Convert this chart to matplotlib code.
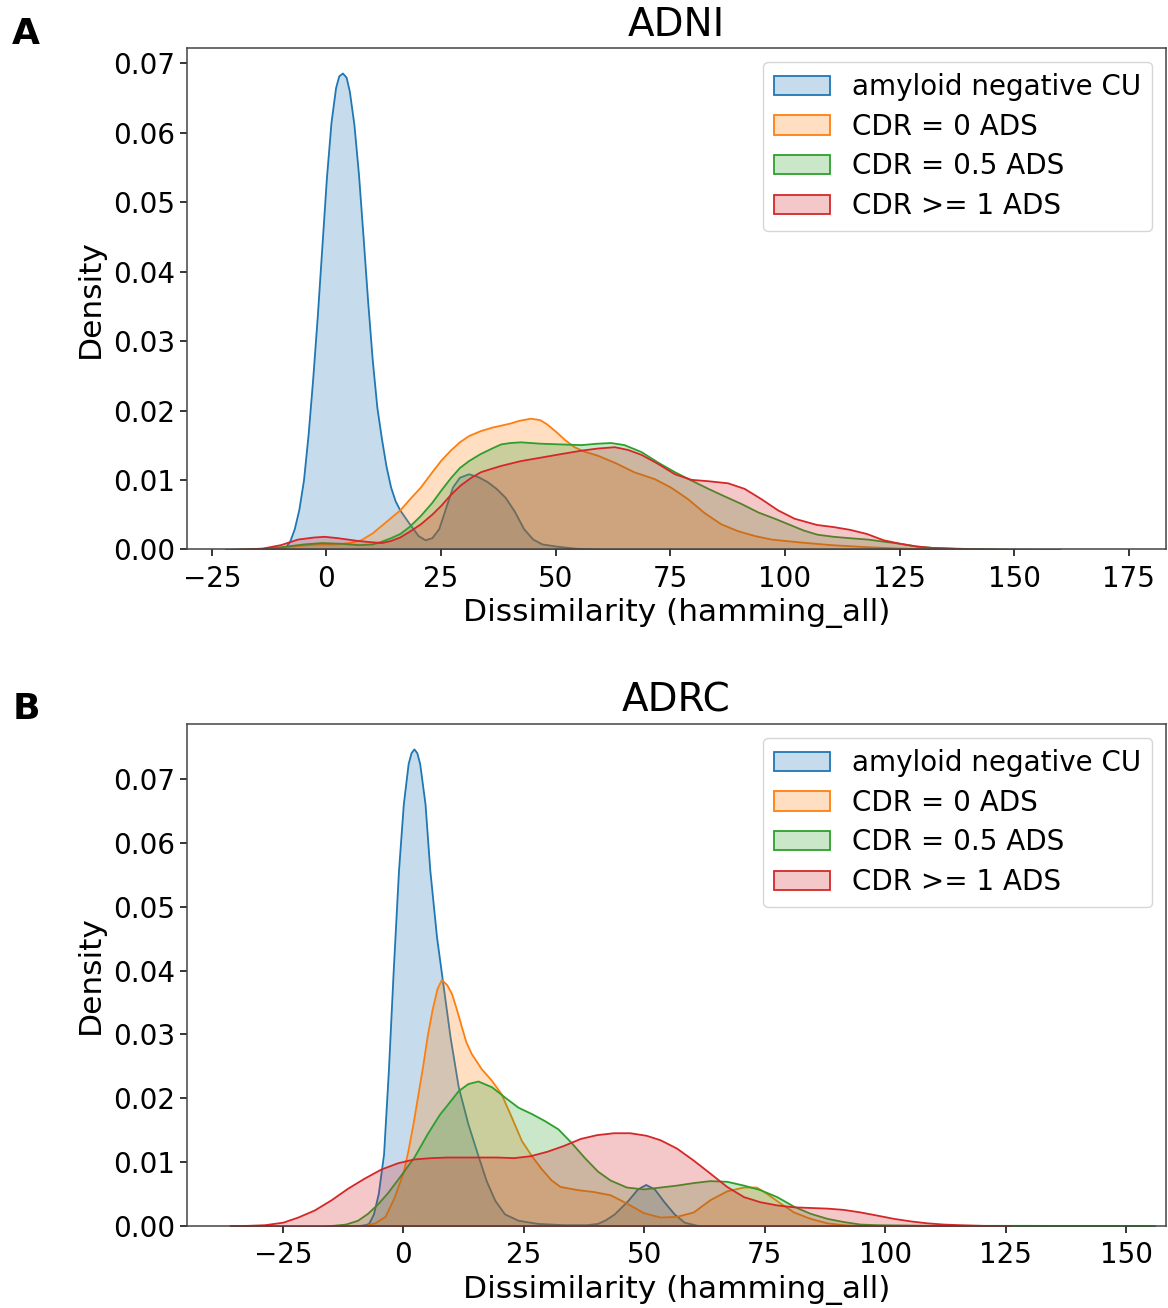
import matplotlib
matplotlib.use('Agg')

import matplotlib.pyplot as plt
from matplotlib.colors import to_rgba
from matplotlib.patches import Patch

# group names and colours (seaborn default palette)
groups = ["amyloid negative CU", "CDR = 0 ADS", "CDR = 0.5 ADS", "CDR >= 1 ADS"]
colors = ["#1f77b4", "#ff7f0e", "#2ca02c", "#d62728"]

# ---- ADNI density curves ----
adni_cu_x = [-14, -10, -9, -8, -7, -6, -5, -4, -3, -2, -1, 0, 1, 2, 2.7, 3.5, 4.3, 5, 6, 7, 8, 9,
             10, 11, 12, 13, 14, 15, 16, 18, 20, 21.5, 23, 24.5, 26, 27.5, 29, 31, 33, 35, 37,
             39, 41, 43, 45, 47, 50, 54, 60]
adni_cu_y = [0, 0.0001, 0.0003, 0.0012, 0.0030, 0.0058, 0.0100, 0.0165, 0.0245, 0.0335, 0.0435,
             0.0535, 0.0615, 0.0665, 0.0682, 0.0686, 0.0680, 0.0660, 0.0612, 0.0540, 0.0450,
             0.0357, 0.0273, 0.0205, 0.0160, 0.0120, 0.0090, 0.0070, 0.0057, 0.0038, 0.0020,
             0.0014, 0.0017, 0.0030, 0.0060, 0.0090, 0.0104, 0.0109, 0.0105, 0.0098, 0.0088,
             0.0075, 0.0055, 0.0030, 0.0015, 0.0008, 0.0005, 0.0002, 0]

adni_cdr0_x = [-22, -14, -10, -6, -2, 2, 5, 7.5, 10, 12, 14, 16, 18, 20.5, 23, 25, 27, 29, 31,
               33.5, 36, 38, 40, 42, 44.5, 46.5, 48, 50, 52, 54, 56, 59, 63, 67, 71.5, 75, 78.8,
               82.4, 86, 89.7, 93.4, 97, 103, 110, 118, 125, 132, 140]
adni_cdr0_y = [0, 0.0001, 0.0003, 0.0006, 0.0008, 0.0008, 0.0010, 0.0014, 0.0024, 0.0035, 0.0046,
               0.0057, 0.0072, 0.0090, 0.0112, 0.0129, 0.0143, 0.0155, 0.0164, 0.0171, 0.0176,
               0.0179, 0.0182, 0.0186, 0.0189, 0.0187, 0.0181, 0.0170, 0.0158, 0.0148, 0.0142,
               0.0136, 0.0125, 0.0112, 0.0102, 0.0090, 0.0073, 0.0053, 0.0037, 0.0027, 0.0020,
               0.0015, 0.0011, 0.0007, 0.0004, 0.0002, 0.0001, 0]

adni_cdr05_x = [-22, -15, -10, -5, -1, 3, 7, 10, 12, 14, 16, 18, 20.5, 23, 25, 27, 29, 31, 33.5,
                36, 38, 40, 42.3, 46.7, 51, 55.5, 59, 62, 64.9, 68.6, 72.2, 75.9, 79.5, 83.2,
                86.8, 90.5, 94.1, 97.7, 101.4, 104, 107, 110.5, 114, 118, 121.4, 125, 128.6,
                132, 139.5, 147, 160]
adni_cdr05_y = [0, 0.0001, 0.0004, 0.0008, 0.0010, 0.0009, 0.0007, 0.0008, 0.0012, 0.0017, 0.0023,
                0.0033, 0.0049, 0.0068, 0.0086, 0.0103, 0.0118, 0.0128, 0.0138, 0.0146, 0.0152,
                0.0154, 0.0155, 0.0153, 0.0152, 0.0151, 0.0153, 0.0154, 0.0151, 0.0141, 0.0126,
                0.0112, 0.0100, 0.0088, 0.0077, 0.0066, 0.0054, 0.0045, 0.0035, 0.0028, 0.0022,
                0.0019, 0.0017, 0.0015, 0.0012, 0.0009, 0.0005, 0.0003, 0.00015, 0.00005, 0]

adni_cdr1_x = [-21, -14, -10, -6.3, -2.7, -0.5, 2.4, 6.8, 10, 12, 14, 16, 18, 20.5, 23, 25, 27,
               29.2, 31.5, 33.6, 36, 38, 42.3, 46.7, 51, 55.5, 59, 62.8, 65.7, 68.6, 72.2, 75.9,
               79.5, 83.2, 87.5, 91.1, 94.8, 98.4, 102, 106.9, 110.5, 114.1, 117.8, 121.4, 125,
               128.6, 132, 139, 150]
adni_cdr1_y = [0, 0.0002, 0.0007, 0.0015, 0.0018, 0.0019, 0.0017, 0.0013, 0.0011, 0.0010, 0.0013,
               0.0018, 0.0026, 0.0037, 0.0051, 0.0064, 0.0079, 0.0093, 0.0104, 0.0112, 0.0117,
               0.0121, 0.0128, 0.0133, 0.0138, 0.0143, 0.0146, 0.0148, 0.0144, 0.0137, 0.0124,
               0.0109, 0.0101, 0.0099, 0.0096, 0.0088, 0.0073, 0.0057, 0.0045, 0.0036, 0.0033,
               0.0029, 0.0023, 0.0014, 0.0009, 0.0005, 0.0003, 0.0001, 0]

# ---- ADRC density curves ----
adrc_cu_x = [-10, -8, -7.2, -6.2, -5.2, -4.1, -3.1, -2.1, -1, 0, 1, 1.6, 2.2, 2.8, 3.4, 4.5, 5.5,
             6.9, 8.3, 9.7, 11.4, 13.4, 15.5, 17.2, 19, 21, 23.8, 27.9, 33.4, 38, 40.3, 42, 43.8,
             46.6, 48.6, 50.3, 52.1, 54.1, 56.2, 58.3, 61, 65]
adrc_cu_y = [0, 0.0002, 0.0004, 0.0019, 0.0051, 0.0113, 0.0244, 0.0400, 0.0557, 0.0661, 0.0724,
             0.0741, 0.0747, 0.0741, 0.0724, 0.0661, 0.0557, 0.0452, 0.0374, 0.0296, 0.0218,
             0.0160, 0.0110, 0.0071, 0.0040, 0.0019, 0.0009, 0.0004, 0.0002, 0.0002, 0.0004,
             0.0010, 0.0019, 0.0040, 0.0058, 0.0065, 0.0058, 0.0038, 0.0019, 0.0006, 0.0001, 0]

adrc_cdr0_x = [-10, -7.9, -5.9, -3.8, -1.9, 0, 1, 2, 3, 4, 5, 6, 7, 7.9, 9, 10, 11, 12.1, 13,
               14.1, 16.2, 18.3, 20.3, 22.4, 24.5, 26.6, 28.6, 30.7, 32.5, 36, 39.4, 42.9, 46.3,
               49.8, 53.3, 56.7, 60.2, 63.6, 67.1, 70.6, 73.3, 75.4, 78.2, 81, 84.4, 87.9, 91.3, 96]
adrc_cdr0_y = [0, 0.0001, 0.0005, 0.0015, 0.0045, 0.0085, 0.0120, 0.0160, 0.0205, 0.0250, 0.0300,
               0.0340, 0.0372, 0.0386, 0.0378, 0.0364, 0.0340, 0.0311, 0.0288, 0.0270, 0.0246,
               0.0228, 0.0207, 0.0171, 0.0134, 0.0110, 0.0090, 0.0072, 0.0062, 0.0057, 0.0054,
               0.0049, 0.0036, 0.0021, 0.0014, 0.0015, 0.0022, 0.0041, 0.0055, 0.0061, 0.0061,
               0.0051, 0.0036, 0.0022, 0.0012, 0.0005, 0.0002, 0]

adrc_cdr05_x = [-16, -12, -9.5, -7.4, -5.3, -3.3, -0.5, 2.2, 5, 7.5, 9.1, 11.4, 13.4, 15.5, 18.3,
                21, 23.8, 26.6, 29.3, 32.1, 34.8, 37.6, 40.3, 42.9, 46.3, 49.8, 53.3, 56.7, 60.2,
                63.6, 67.1, 70.6, 74, 77.5, 81, 84.4, 87.9, 91.3, 94.8, 98.3, 110, 130, 150, 156]
adrc_cdr05_y = [0, 0.0003, 0.0009, 0.0020, 0.0035, 0.0052, 0.0080, 0.0108, 0.0145, 0.0175, 0.0190,
                0.0212, 0.0223, 0.0227, 0.0218, 0.0202, 0.0186, 0.0176, 0.0165, 0.0152, 0.0131,
                0.0107, 0.0086, 0.0072, 0.0061, 0.0058, 0.0061, 0.0064, 0.0068, 0.0071, 0.0070,
                0.0064, 0.0057, 0.0046, 0.0031, 0.0020, 0.0012, 0.0007, 0.0003, 0.0002, 0.0001,
                0.0001, 0.00003, 0]

adrc_cdr1_x = [-36, -28.8, -25, -21.9, -18.5, -15, -11.6, -8.1, -4.7, -1.2, 2.2, 5.7, 9.1, 12.5,
               16, 19.4, 22.9, 26.3, 29.8, 33.2, 36.7, 40.1, 43.6, 47, 50.4, 53.3, 56.7, 60.2,
               63.6, 67.1, 70.6, 74, 77.5, 81, 84.4, 87.9, 91.3, 94.8, 98.3, 101.7, 105.2, 108.6,
               112.1, 115.6, 120, 126]
adrc_cdr1_y = [0, 0.0002, 0.0006, 0.0014, 0.0025, 0.0041, 0.0059, 0.0075, 0.0089, 0.0099, 0.0105,
               0.0107, 0.0108, 0.0108, 0.0108, 0.0108, 0.0107, 0.0110, 0.0117, 0.0126, 0.0137,
               0.0143, 0.0146, 0.0146, 0.0142, 0.0135, 0.0122, 0.0103, 0.0083, 0.0062, 0.0046,
               0.0038, 0.0033, 0.0030, 0.0029, 0.0028, 0.0026, 0.0022, 0.0017, 0.0012, 0.0008,
               0.0005, 0.0003, 0.0002, 0.0001, 0]

adni_curves = [(adni_cu_x, adni_cu_y), (adni_cdr0_x, adni_cdr0_y),
               (adni_cdr05_x, adni_cdr05_y), (adni_cdr1_x, adni_cdr1_y)]
adrc_curves = [(adrc_cu_x, adrc_cu_y), (adrc_cdr0_x, adrc_cdr0_y),
               (adrc_cdr05_x, adrc_cdr05_y), (adrc_cdr1_x, adrc_cdr1_y)]

TICK_FS = 20
LABEL_FS = 22.5


def draw_panel(ax, curves, title, xlim, ylim, xticks):
    for (xs, ys), c in zip(curves, colors):
        ax.fill_between(xs, ys, 0, facecolor=to_rgba(c, 0.25), edgecolor=c, linewidth=1.3)
    ax.set_xlim(*xlim)
    ax.set_ylim(*ylim)
    ax.set_xticks(xticks)
    ax.set_yticks([0, 0.01, 0.02, 0.03, 0.04, 0.05, 0.06, 0.07])
    ax.set_yticklabels(["%.2f" % v for v in ax.get_yticks()])
    ax.tick_params(labelsize=TICK_FS, length=5, width=1.1)
    ax.tick_params(axis="x", pad=6)
    for sp in ax.spines.values():
        sp.set_linewidth(1.1)
        sp.set_color("#444444")
    ax.set_title(title, fontsize=28, pad=9)
    ax.set_xlabel("Dissimilarity (hamming_all)", fontsize=LABEL_FS, labelpad=4)
    ax.set_ylabel("Density", fontsize=LABEL_FS, labelpad=6)
    handles = [Patch(facecolor=to_rgba(c, 0.25), edgecolor=c, linewidth=1.3) for c in colors]
    ax.legend(handles, groups, loc="upper right", fontsize=TICK_FS, framealpha=0.8,
              labelspacing=0.42, handletextpad=0.8)


fig = plt.figure(figsize=(11.68, 13.08), dpi=100)
ax1 = fig.add_axes([0.1601, 0.5799, 0.8382, 0.3834])
ax2 = fig.add_axes([0.1601, 0.0627, 0.8382, 0.3838])

draw_panel(ax1, adni_curves, "ADNI", (-30.4, 183.1), (0, 0.0722),
           [-25, 0, 25, 50, 75, 100, 125, 150, 175])
draw_panel(ax2, adrc_curves, "ADRC", (-44.9, 158.3), (0, 0.0786),
           [-25, 0, 25, 50, 75, 100, 125, 150])

fig.text(26 / 1168, 1 - 34 / 1308, "A", fontsize=26, fontweight="bold", ha="center", va="center")
fig.text(26 / 1168, 1 - 709 / 1308, "B", fontsize=26, fontweight="bold", ha="center", va="center")

fig.savefig("out.png", dpi=100)
